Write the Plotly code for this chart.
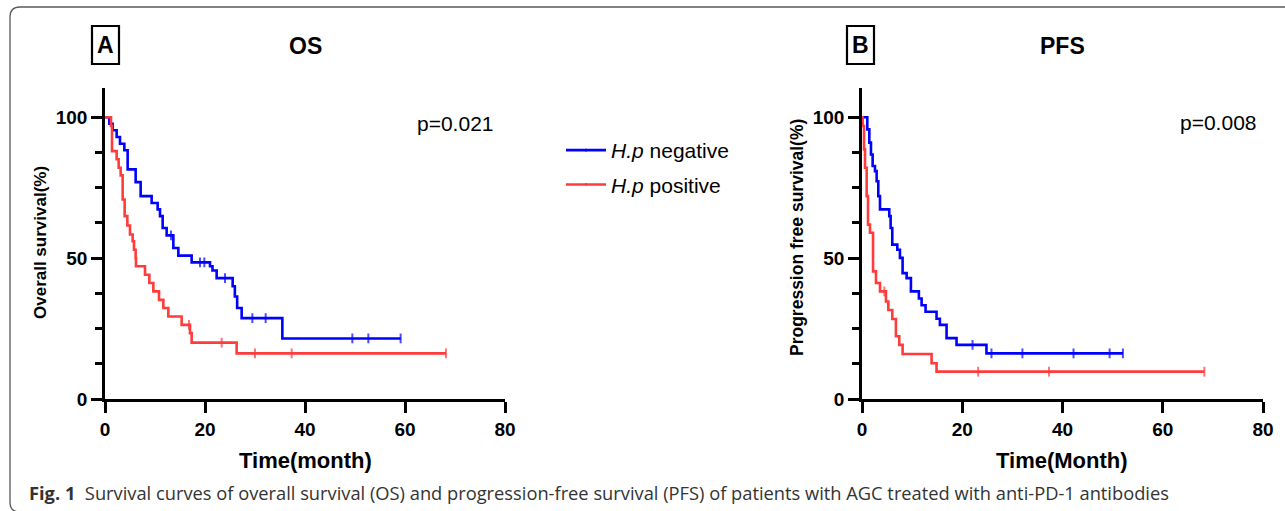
import plotly.graph_objects as go

W, H = 1285, 511

# ---------------- data ----------------
# Overall survival, H.p negative
os_neg_time = [0.87, 1.53, 2.33, 3.0, 3.87, 4.53, 6.13, 7.13, 9.33, 10.53, 11.0, 11.53, 12.33,
               13.67, 14.67, 17.33, 21.0, 21.5, 22.33, 25.53, 25.97, 26.43, 27.33, 35.47]
os_neg_surv = [97.7, 95.4, 93.0, 90.6, 88.3, 81.5, 77.0, 72.0, 69.6, 67.3, 64.9, 60.7, 58.1,
               53.6, 50.9, 48.5, 47.1, 45.6, 42.9, 40.0, 36.4, 32.3, 28.7, 21.5]
os_neg_censor = [13.2, 19.0, 19.87, 24.0, 29.47, 32.13, 49.47, 52.67, 59.13]

# Overall survival, H.p positive
os_pos_time = [1.2, 1.4, 2.33, 2.73, 3.13, 3.53, 3.93, 4.47, 5.0, 5.53, 5.8, 6.13, 6.2,
               8.0, 8.87, 9.67, 10.8, 11.67, 12.67, 15.33, 17.0, 17.33, 26.33]
os_pos_surv = [97.0, 88.0, 85.1, 82.1, 79.4, 70.8, 64.9, 61.6, 58.4, 56.0, 53.0, 50.0, 47.1,
               44.1, 41.2, 38.2, 35.2, 32.3, 29.3, 26.3, 23.4, 20.0, 16.2]
os_pos_censor = [16.8, 23.33, 30.0, 37.33, 68.2]

# Progression free survival, H.p negative
pfs_neg_time = [1.06, 1.46, 1.79, 2.12, 2.59, 2.92, 3.25, 3.59, 5.44, 5.71, 6.04, 7.04, 7.57,
                8.1, 8.9, 9.76, 11.35, 11.89, 12.68, 14.87, 15.54, 16.87, 18.86, 24.83]
pfs_neg_surv = [95.7, 91.0, 86.8, 82.7, 80.9, 77.3, 72.0, 67.3, 64.9, 60.7, 54.8, 53.0, 50.1,
                44.7, 42.9, 38.2, 35.7, 33.3, 30.95, 28.5, 26.3, 21.6, 19.2, 16.2]
pfs_neg_censor = [22.05, 25.83, 32.0, 42.2, 49.4, 52.05]

# Progression free survival, H.p positive
pfs_pos_time = [0.13, 0.4, 0.6, 0.93, 1.2, 1.59, 2.2, 2.79, 3.59, 4.78, 5.25, 6.04, 6.77,
                7.44, 8.1, 13.88, 14.87]
pfs_pos_surv = [96.9, 88.6, 82.1, 72.0, 61.9, 59.0, 45.3, 41.2, 38.2, 34.6, 31.6, 28.4, 22.3,
                19.2, 16.0, 12.7, 9.7]
pfs_pos_censor = [4.45, 23.17, 37.3, 68.3]

x_ticks = [0, 20, 40, 60, 80]
y_ticks = [0, 50, 100]

BLUE = "#0000ff"
RED = "#ff3b3b"
FONT = "Liberation Sans, Arial, sans-serif"


def km_path(times, surv, censor):
    pts = [(0.0, 100.0, 0)]
    pts += [(t, s, 0) for t, s in zip(times, surv)]
    for c in censor:
        lvl = 100.0
        for t, s in zip(times, surv):
            if t <= c:
                lvl = s
        pts.append((c, lvl, 7))
    pts.sort(key=lambda p: p[0])
    return [p[0] for p in pts], [p[1] for p in pts], [p[2] for p in pts]


fig = go.Figure()

curves = [
    (os_neg_time, os_neg_surv, os_neg_censor, BLUE, "<i>H.p</i> negative", "neg", True, "x", "y"),
    (os_pos_time, os_pos_surv, os_pos_censor, RED, "<i>H.p</i> positive", "pos", True, "x", "y"),
    (pfs_neg_time, pfs_neg_surv, pfs_neg_censor, BLUE, "<i>H.p</i> negative", "neg", False, "x2", "y2"),
    (pfs_pos_time, pfs_pos_surv, pfs_pos_censor, RED, "<i>H.p</i> positive", "pos", False, "x2", "y2"),
]
for t, s, c, col, name, grp, show, xa, ya in curves:
    xs, ys, sz = km_path(t, s, c)
    fig.add_trace(go.Scatter(
        x=xs, y=ys, mode="lines+markers", name=name, legendgroup=grp, showlegend=show,
        line=dict(color=col, width=2.6, shape="hv"),
        marker=dict(symbol="line-ns", size=sz, color=col, line=dict(color=col, width=2)),
        xaxis=xa, yaxis=ya, hoverinfo="x+y",
    ))


def px_x(x):
    return x / W


def px_y(y):
    return 1 - y / H


axis_common = dict(
    showline=True, linecolor="black", linewidth=2.5, ticks="outside", tickwidth=2.5,
    tickcolor="black", showgrid=False, zeroline=False, automargin=False,
    tickfont=dict(family=FONT, size=19, color="black", weight="bold"),
)

fig.update_layout(
    width=W, height=H, margin=dict(l=0, r=0, t=0, b=0, pad=0, autoexpand=False),
    paper_bgcolor="white", plot_bgcolor="white",
    xaxis=dict(domain=[px_x(105), px_x(505)], range=[0, 80], tickvals=x_ticks, ticklen=11,
               anchor="y", **axis_common),
    yaxis=dict(domain=[px_y(399), px_y(88)], range=[0, 110.4], tickvals=y_ticks, ticklen=11,
               anchor="x",
               minor=dict(dtick=12.5, tick0=0, ticks="outside", ticklen=7, tickwidth=2.5,
                          tickcolor="black"),
               **axis_common),
    xaxis2=dict(domain=[px_x(862), px_x(1263)], range=[0, 80], tickvals=x_ticks, ticklen=11,
                anchor="y2", **axis_common),
    yaxis2=dict(domain=[px_y(399), px_y(88)], range=[0, 110.4], tickvals=y_ticks, ticklen=11,
                anchor="x2",
                minor=dict(dtick=12.5, tick0=0, ticks="outside", ticklen=7, tickwidth=2.5,
                           tickcolor="black"),
                **axis_common),
    legend=dict(x=px_x(561), y=px_y(130), xanchor="left", yanchor="top",
                font=dict(family=FONT, size=21, color="black"), itemwidth=40,
                bgcolor="rgba(0,0,0,0)", tracegroupgap=4, itemsizing="trace"),
    showlegend=True,
)

# frame with rounded corners
r = 10
frame = (f"M {px_x(1300)},{px_y(7)} L {px_x(10 + r)},{px_y(7)} "
         f"Q {px_x(10)},{px_y(7)} {px_x(10)},{px_y(7 + r)} "
         f"L {px_x(10)},{px_y(512 - r)} Q {px_x(10)},{px_y(512)} {px_x(10 + r)},{px_y(512)} "
         f"L {px_x(1300)},{px_y(512)}")
shapes = [
    dict(type="path", path=frame, xref="paper", yref="paper",
         line=dict(color="#5a5a5a", width=1.3)),
    dict(type="rect", xref="paper", yref="paper", x0=px_x(92), x1=px_x(119),
         y0=px_y(64), y1=px_y(26), line=dict(color="black", width=2.2)),
    dict(type="rect", xref="paper", yref="paper", x0=px_x(847), x1=px_x(874),
         y0=px_y(64), y1=px_y(26), line=dict(color="black", width=2.2)),
]
fig.update_layout(shapes=shapes)


def ann(text, x, y, size, bold=False, angle=0, xanchor="center", family=FONT, color="black"):
    return dict(text=text, x=px_x(x), y=px_y(y), xref="paper", yref="paper", showarrow=False,
                xanchor=xanchor, yanchor="middle", textangle=angle,
                font=dict(family=family, size=size, color=color,
                          weight="bold" if bold else "normal"))


annotations = [
    ann("A", 105.5, 45, 23, bold=True),
    ann("B", 860.5, 45, 23, bold=True),
    ann("OS", 305, 46, 23, bold=True),
    ann("PFS", 1062, 46, 23, bold=True),
    ann("p=0.021", 455, 123, 21),
    ann("p=0.008", 1218, 122, 21),
    ann("Overall survival(%)", 40, 243, 17, bold=True, angle=-90),
    ann("Progression free survival(%)", 797, 238, 17.5, bold=True, angle=-90),
    ann("Time(month)", 305, 460, 22, bold=True),
    ann("Time(Month)", 1062, 460, 22, bold=True),
    ann("<b>Fig. 1</b>\u00a0\u00a0Survival curves of overall survival (OS) and progression-free survival "
        "(PFS) of patients with AGC treated with anti-PD-1 antibodies",
        27, 492, 18.3, xanchor="left", family="Open Sans, Noto Sans, sans-serif", color="#333333"),
]
fig.update_layout(annotations=annotations)

fig.write_html(
    "out.html",
    config={"displayModeBar": False},
    post_script="document.body.style.margin='0px';document.body.style.overflow='hidden';",
)
